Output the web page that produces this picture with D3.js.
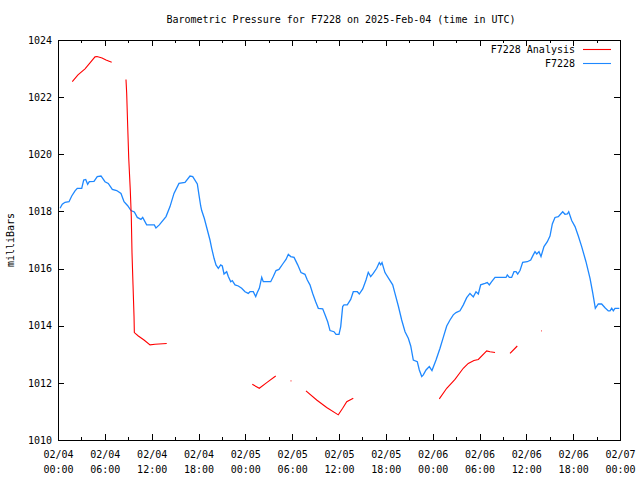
<!DOCTYPE html>
<html><head><meta charset="utf-8">
<script src="https://cdn.jsdelivr.net/npm/d3@7"></script>
<style>body{margin:0;background:#fff}svg{display:block}text{font-family:"DejaVu Sans Mono",monospace;font-size:10px;fill:#000}</style>
</head><body><svg id="c" width="640" height="480"></svg>
<script>
const title = "Barometric Pressure for F7228 on 2025-Feb-04 (time in UTC)";
const yLabel = "milliBars";
const seriesNames = ["F7228 Analysis", "F7228"];
const startTime = Date.UTC(2025, 1, 4, 0, 0);
const yTicks = [1010, 1012, 1014, 1016, 1018, 1020, 1022, 1024];
// hours since 2025-02-04 00:00 UTC
const stationHours = [0.26,0.55,0.9,1.41,1.76,2.18,2.47,3.04,3.29,3.55,3.8,4.01,4.61,5.03,5.51,6.02,6.44,6.96,7.52,8.07,8.46,8.93,9.35,9.78,10.16,10.63,10.85,11.36,12.34,12.55,12.98,13.84,14.35,14.86,15.5,16.27,16.91,17.26,17.85,18.06,18.28,18.41,18.74,19.47,19.69,19.99,20.24,20.54,20.84,21.05,21.27,21.61,21.82,22.13,22.33,22.68,23.1,23.53,23.96,24.38,24.6,25.02,25.33,25.53,25.79,26.1,26.3,27.25,27.58,27.93,28.31,28.79,29.21,29.51,29.81,30.24,30.71,31.13,31.64,31.94,32.28,32.63,33.01,33.35,33.91,34.21,34.55,34.85,35.36,35.62,36.0,36.22,36.47,36.64,37.06,37.5,37.83,38.35,38.6,39.04,39.46,39.75,40.06,40.39,40.83,41.16,41.34,41.51,41.89,42.44,42.88,43.17,43.6,44.03,44.46,44.88,45.19,45.52,46.03,46.29,46.6,46.8,47.15,47.57,47.91,48.43,48.94,49.36,49.8,50.22,50.64,50.99,51.5,51.93,52.36,52.78,53.21,53.55,53.85,54.15,54.7,55.0,55.26,55.56,55.99,57.4,57.56,57.82,58.12,58.42,58.68,58.89,59.19,59.53,60.12,60.56,60.89,61.11,61.33,61.62,61.88,62.26,62.69,63.03,63.33,63.67,64.1,64.4,64.66,64.95,65.25,65.43,65.81,66.24,66.66,67.09,67.64,68.16,68.5,68.84,69.22,69.65,70.08,70.5,70.72,70.94,71.14,71.36,71.91];
const stationValues = [1018.11,1018.25,1018.32,1018.34,1018.54,1018.72,1018.81,1018.81,1019.10,1019.12,1018.95,1019.04,1019.05,1019.22,1019.24,1019.04,1018.98,1018.77,1018.73,1018.63,1018.34,1018.20,1018.03,1017.98,1017.79,1017.72,1017.79,1017.53,1017.53,1017.42,1017.53,1017.82,1018.17,1018.63,1018.98,1019.02,1019.24,1019.22,1018.96,1018.58,1018.19,1018.03,1017.76,1017.00,1016.71,1016.36,1016.13,1016.01,1016.13,1016.09,1015.81,1015.89,1015.72,1015.54,1015.58,1015.43,1015.39,1015.31,1015.19,1015.13,1015.19,1015.19,1015.02,1015.16,1015.31,1015.69,1015.54,1015.54,1015.72,1015.93,1015.97,1016.16,1016.32,1016.50,1016.42,1016.39,1016.13,1015.86,1015.80,1015.60,1015.43,1015.13,1014.84,1014.61,1014.59,1014.38,1014.14,1013.83,1013.79,1013.70,1013.70,1013.97,1014.67,1014.73,1014.73,1014.92,1015.19,1015.19,1015.11,1015.29,1015.60,1015.87,1015.72,1015.83,1016.01,1016.21,1016.13,1016.21,1015.86,1015.62,1015.43,1015.13,1014.69,1014.20,1013.79,1013.56,1013.29,1012.80,1012.74,1012.45,1012.22,1012.28,1012.45,1012.57,1012.43,1012.80,1013.21,1013.59,1013.99,1014.20,1014.38,1014.46,1014.52,1014.73,1014.98,1015.13,1015.01,1015.19,1015.11,1015.43,1015.48,1015.51,1015.43,1015.54,1015.69,1015.69,1015.78,1015.69,1015.69,1015.89,1015.89,1015.81,1015.93,1016.22,1016.24,1016.30,1016.48,1016.59,1016.51,1016.59,1016.42,1016.77,1016.94,1017.14,1017.56,1017.79,1017.82,1017.91,1017.99,1017.90,1017.91,1017.99,1017.68,1017.47,1017.14,1016.77,1016.24,1015.66,1015.16,1014.61,1014.76,1014.76,1014.63,1014.52,1014.52,1014.61,1014.52,1014.61,1014.61];
// analysis series; null marks a gap
const analysisHours = [1.83,2.56,3.46,4.10,4.74,5.0,5.64,6.15,6.88,null,8.71,8.8,8.93,9.06,9.26,9.39,9.48,9.61,9.74,9.78,10.29,11.02,11.79,12.43,13.93,null,24.89,25.79,26.74,27.89,null,29.8,29.9,null,31.77,33.14,34.42,35.91,36.47,36.99,37.83,null,48.85,49.8,50.86,51.92,52.56,53.29,53.85,54.92,55.35,55.99,null,57.91,58.84,null,61.88,61.96];
const analysisValues = [1022.54,1022.78,1022.99,1023.20,1023.41,1023.42,1023.37,1023.30,1023.22,null,1022.62,1022.13,1020.97,1019.87,1018.75,1017.82,1016.55,1015.43,1014.32,1013.76,1013.64,1013.50,1013.33,1013.35,1013.38,null,1011.95,1011.81,1012.01,1012.24,null,1012.07,1012.07,null,1011.72,1011.40,1011.14,1010.88,1011.11,1011.34,1011.46,null,1011.44,1011.81,1012.12,1012.51,1012.68,1012.78,1012.82,1013.12,1013.09,1013.06,null,1013.03,1013.29,null,1013.82,1013.82];

const svg = d3.select("#c");
const L = 58, R = 620, T = 40, B = 440;
const toDate = h => new Date(startTime + h * 3600000);
const x = d3.scaleUtc().domain([toDate(0), toDate(72)]).range([L, R]);
const y = d3.scaleLinear().domain([1010, 1024]).range([B, T]);

const majorX = d3.range(0, 73, 6).map(toDate);
const minorX = d3.range(3, 72, 6).map(toDate);

// frame
svg.append("rect").attr("x", L + 0.5).attr("y", T + 0.5).attr("width", R - L).attr("height", B - T)
  .attr("fill", "none").attr("stroke", "#000").attr("stroke-width", 1);

const tickG = svg.append("g").attr("stroke", "#000").attr("stroke-width", 1).attr("shape-rendering", "crispEdges");
majorX.forEach(d => {
  const px = Math.round(x(d)) + 0.5;
  tickG.append("line").attr("x1", px).attr("x2", px).attr("y1", B).attr("y2", B - 6);
  tickG.append("line").attr("x1", px).attr("x2", px).attr("y1", T).attr("y2", T + 6);
});
minorX.forEach(d => {
  const px = Math.round(x(d)) + 0.5;
  tickG.append("line").attr("x1", px).attr("x2", px).attr("y1", B).attr("y2", B - 3);
  tickG.append("line").attr("x1", px).attr("x2", px).attr("y1", T).attr("y2", T + 3);
});
yTicks.forEach(v => {
  const py = Math.round(y(v)) + 0.5;
  tickG.append("line").attr("x1", L).attr("x2", L + 6).attr("y1", py).attr("y2", py);
  tickG.append("line").attr("x1", R).attr("x2", R - 6).attr("y1", py).attr("y2", py);
});

// axes labels via d3 axes (domain/ticks hidden, labels used)
const yAxis = svg.append("g").attr("transform", `translate(${L},0)`)
  .call(d3.axisLeft(y).tickValues(yTicks).tickFormat(d3.format("d")).tickSize(0).tickPadding(6));
yAxis.select(".domain").remove();
yAxis.selectAll("text").style("font-family", '"DejaVu Sans Mono",monospace').style("font-size", "10px").attr("fill", "#000");

const xAxis = svg.append("g").attr("transform", `translate(0,${B})`)
  .call(d3.axisBottom(x).tickValues(majorX).tickSize(0).tickPadding(0).tickFormat(""));
xAxis.select(".domain").remove();
const fmtD = d3.utcFormat("%m/%d"), fmtT = d3.utcFormat("%H:%M");
xAxis.selectAll(".tick").each(function(d) {
  const t = d3.select(this).append("text").attr("fill", "#000").attr("text-anchor", "middle")
    .style("font-family", '"DejaVu Sans Mono",monospace').style("font-size", "10px");
  t.append("tspan").attr("x", 0).attr("y", 18).text(fmtD(d));
  t.append("tspan").attr("x", 0).attr("y", 33).text(fmtT(d));
});

// title and y label
svg.append("text").attr("x", 341).attr("y", 23).attr("text-anchor", "middle").text(title);
svg.append("text").attr("transform", "translate(14,240) rotate(-90)").attr("text-anchor", "middle").text(yLabel);

// lines
const line = d3.line().defined(d => d[0] !== null && d[1] !== null).x(d => x(toDate(d[0]))).y(d => y(d[1]));
const stationData = stationHours.map((h, i) => [h, stationValues[i]]);
const analysisData = analysisHours.map((h, i) => [h, analysisValues[i]]);
svg.append("path").datum(stationData).attr("d", line).attr("fill", "none").attr("stroke", "#1e88ff").attr("stroke-width", 1.3);
svg.append("path").datum(analysisData).attr("d", line).attr("fill", "none").attr("stroke", "#ff0000").attr("stroke-width", 1.1);

// legend
const colors = ["#ff0000", "#1e88ff"];
seriesNames.forEach((n, i) => {
  const ly = 49 + i * 14;
  svg.append("text").attr("x", 575).attr("y", ly + 4).attr("text-anchor", "end").text(n);
  svg.append("line").attr("x1", 583).attr("x2", 611).attr("y1", ly + 0.5).attr("y2", ly + 0.5)
    .attr("stroke", colors[i]).attr("stroke-width", 1.1);
});
</script></body></html>
